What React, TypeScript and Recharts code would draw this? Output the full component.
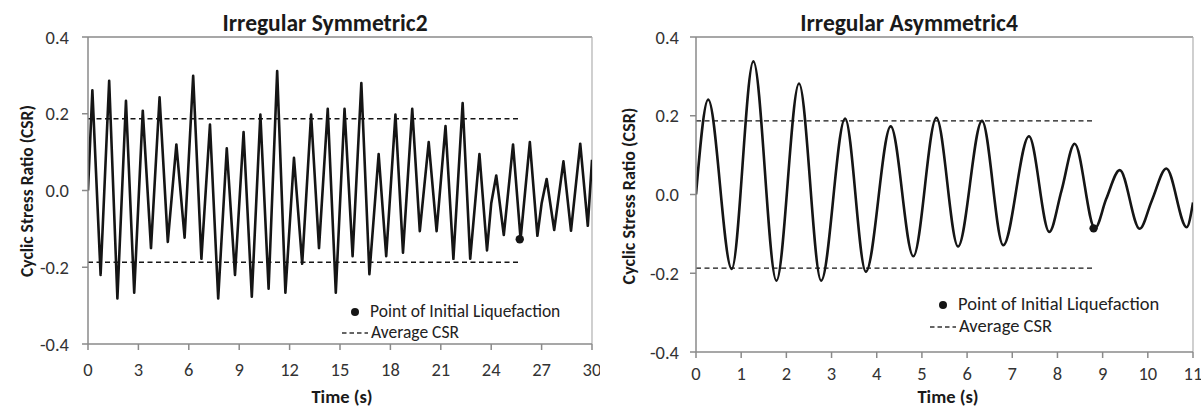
import React from "react";
import {
  ComposedChart,
  Line,
  XAxis,
  YAxis,
  ReferenceLine,
  ReferenceDot,
} from "recharts";

const FONT = "Carlito, Lato, sans-serif";

// Irregular Symmetric2 record (time in s, CSR)
const symTime = [
  0, 0.26, 0.75, 1.26, 1.75, 2.26, 2.75, 3.26, 3.75, 4.26, 4.75, 5.26, 5.75,
  6.26, 6.75, 7.26, 7.75, 8.26, 8.75, 9.26, 9.75, 10.26, 10.75, 11.26, 11.75,
  12.26, 12.75, 13.28, 13.75, 14.27, 14.75, 15.27, 15.75, 16.27, 16.75, 17.3,
  17.75, 18.3, 18.75, 19.3, 19.75, 20.28, 20.75, 21.28, 21.75, 22.3, 22.75,
  23.3, 23.75, 24.0, 24.3, 24.75, 25.3, 25.75, 26.3, 26.75, 27.0, 27.3, 27.75,
  28.3, 28.75, 29.3, 29.75, 30,
];
const symCsr = [
  0, 0.261, -0.22, 0.286, -0.281, 0.234, -0.266, 0.208, -0.15, 0.243, -0.134,
  0.12, -0.123, 0.299, -0.178, 0.172, -0.281, 0.11, -0.22, 0.152, -0.277,
  0.198, -0.256, 0.311, -0.266, 0.085, -0.191, 0.198, -0.15, 0.213, -0.266,
  0.213, -0.171, 0.28, -0.218, 0.095, -0.171, 0.198, -0.162, 0.213, -0.106,
  0.126, -0.106, 0.168, -0.178, 0.228, -0.178, 0.095, -0.156, -0.034, 0.039,
  -0.116, 0.12, -0.127, 0.126, -0.118, -0.034, 0.03, -0.103, 0.076, -0.105,
  0.122, -0.092, 0.08,
];
const symTicks = [0, 3, 6, 9, 12, 15, 18, 21, 24, 27, 30];
const symAvgCsr = 0.187;
const symLiqTime = 25.7;
const symLiqCsr = -0.127;

// Irregular Asymmetric4 record
const asymTime = [
  0, 0.27, 0.79, 1.27, 1.78, 2.28, 2.77, 3.3, 3.76, 4.31, 4.81, 5.32, 5.8,
  6.33, 6.8, 7.37, 7.82, 8.09, 8.38, 8.83, 9.08, 9.38, 9.82, 10.09, 10.41,
  10.86, 11,
];
const asymCsr = [
  0, 0.241, -0.189, 0.338, -0.219, 0.282, -0.219, 0.193, -0.196, 0.173,
  -0.157, 0.195, -0.132, 0.187, -0.129, 0.148, -0.095, 0.01, 0.129, -0.086,
  -0.011, 0.062, -0.087, -0.015, 0.066, -0.083, -0.02,
];
const asymTicks = [0, 1, 2, 3, 4, 5, 6, 7, 8, 9, 10, 11];
const asymAvgCsr = 0.187;
const asymLiqTime = 8.8;
const asymLiqCsr = -0.086;

const csrTicks = [-0.4, -0.2, 0, 0.2, 0.4];

const AXIS = "#8a8a8a";
const INK = "#151515";

interface PanelProps {
  width: number;
  title: string;
  time: number[];
  csr: number[];
  curve: "linear" | "monotone";
  xTicks: number[];
  avgCsr: number;
  liqTime: number;
  liqCsr: number;
  margin: { top: number; right: number; bottom: number; left: number };
  xTickMargin: number;
  yTickMargin: number;
  titleX: number;
  yTitleX: number;
  yTitleY: number;
  yTitleSize: number;
  xTitleX: number;
  xTitleY: number;
  legendX: number;
  legendY: number;
  legendGap: number;
  legendSize: number;
}

const Panel: React.FC<PanelProps> = (p) => {
  const data = p.time.map((t, i) => ({ t, csr: p.csr[i] }));
  const xMax = p.xTicks[p.xTicks.length - 1];
  const dashSeg = (y: number) => [
    { x: 0, y },
    { x: p.liqTime, y },
  ];

  return (
    <div style={{ position: "relative", width: p.width, height: 407 }}>
      <ComposedChart width={p.width} height={407} data={data} margin={p.margin}>
        <XAxis
          dataKey="t"
          type="number"
          domain={[0, xMax]}
          ticks={p.xTicks}
          interval={0}
          allowDataOverflow
          height={30}
          tickSize={6}
          tickMargin={p.xTickMargin}
          axisLine={{ stroke: AXIS, strokeWidth: 1.5 }}
          tickLine={{ stroke: AXIS, strokeWidth: 1.5 }}
          tick={{ fill: "#333", fontSize: 18.5, fontFamily: FONT }}
        />
        <YAxis
          type="number"
          domain={[-0.4, 0.4]}
          ticks={csrTicks}
          interval={0}
          width={60}
          tickSize={6}
          tickMargin={p.yTickMargin}
          tickFormatter={(v: number) => v.toFixed(1)}
          axisLine={{ stroke: AXIS, strokeWidth: 1.5 }}
          tickLine={{ stroke: AXIS, strokeWidth: 1.5 }}
          tick={{ fill: "#333", fontSize: 18.5, fontFamily: FONT }}
        />
        {/* plot frame: top and right edges */}
        <ReferenceLine
          segment={[{ x: 0, y: 0.4 }, { x: xMax, y: 0.4 }]}
          ifOverflow="visible"
          stroke={AXIS}
          strokeWidth={1.5}
        />
        <ReferenceLine
          segment={[{ x: xMax, y: -0.4 }, { x: xMax, y: 0.4 }]}
          ifOverflow="visible"
          stroke="#b0b0b0"
          strokeWidth={1.2}
        />
        <ReferenceLine
          segment={dashSeg(p.avgCsr)}
          stroke={INK}
          strokeWidth={1.4}
          strokeDasharray="5 3.5"
        />
        <ReferenceLine
          segment={dashSeg(-p.avgCsr)}
          stroke={INK}
          strokeWidth={1.4}
          strokeDasharray="5 3.5"
        />
        <Line
          type={p.curve}
          dataKey="csr"
          stroke={INK}
          strokeWidth={2.6}
          strokeLinejoin="round"
          dot={false}
          isAnimationActive={false}
        />
        <ReferenceDot x={p.liqTime} y={p.liqCsr} r={4.2} fill={INK} stroke="none" />
      </ComposedChart>

      <svg
        width={p.width}
        height={407}
        style={{ position: "absolute", left: 0, top: 0, pointerEvents: "none" }}
        fontFamily={FONT}
      >
        <text x={p.titleX} y={31} textAnchor="middle" fontSize={23.5} fontWeight="bold" fill="#1a1a1a">
          {p.title}
        </text>
        <text
          x={p.yTitleX}
          y={p.yTitleY}
          transform={`rotate(-90 ${p.yTitleX} ${p.yTitleY})`}
          textAnchor="middle"
          fontSize={p.yTitleSize}
          fontWeight="bold"
          fill="#1a1a1a"
        >
          Cyclic Stress Ratio (CSR)
        </text>
        <text x={p.xTitleX} y={p.xTitleY} textAnchor="middle" fontSize={18.5} fontWeight="bold" fill="#1a1a1a">
          Time (s)
        </text>

        {/* legend */}
        <circle cx={p.legendX - 15} cy={p.legendY - 5} r={4} fill={INK} />
        <text x={p.legendX} y={p.legendY} fontSize={p.legendSize} fill="#222">
          Point of Initial Liquefaction
        </text>
        <line
          x1={p.legendX - 28}
          x2={p.legendX - 2}
          y1={p.legendY + p.legendGap - 5}
          y2={p.legendY + p.legendGap - 5}
          stroke="#333"
          strokeWidth={1.4}
          strokeDasharray="4.5 3"
        />
        <text x={p.legendX + 1} y={p.legendY + p.legendGap} fontSize={p.legendSize} fill="#222">
          Average CSR
        </text>
      </svg>
    </div>
  );
};

export default function App() {
  return (
    <div
      style={{
        position: "absolute",
        left: 0,
        top: 0,
        width: 1201,
        height: 407,
        display: "flex",
        background: "#fff",
        overflow: "hidden",
      }}
    >
      <Panel
        width={600}
        title="Irregular Symmetric2"
        time={symTime}
        csr={symCsr}
        curve="linear"
        xTicks={symTicks}
        avgCsr={symAvgCsr}
        liqTime={symLiqTime}
        liqCsr={symLiqCsr}
        margin={{ top: 37, right: 8, bottom: 33, left: 28 }}
        xTickMargin={13}
        yTickMargin={13}
        titleX={325}
        yTitleX={33}
        yTitleY={191}
        yTitleSize={17.5}
        xTitleX={342}
        xTitleY={403}
        legendX={370}
        legendY={317}
        legendGap={21}
        legendSize={17.5}
      />
      <Panel
        width={601}
        title="Irregular Asymmetric4"
        time={asymTime}
        csr={asymCsr}
        curve="monotone"
        xTicks={asymTicks}
        avgCsr={asymAvgCsr}
        liqTime={asymLiqTime}
        liqCsr={asymLiqCsr}
        margin={{ top: 37, right: 8, bottom: 25, left: 36 }}
        xTickMargin={9}
        yTickMargin={11}
        titleX={309}
        yTitleX={35}
        yTitleY={196}
        yTitleSize={18}
        xTitleX={348}
        xTitleY={403}
        legendX={358}
        legendY={310}
        legendGap={22}
        legendSize={18.5}
      />
    </div>
  );
}
